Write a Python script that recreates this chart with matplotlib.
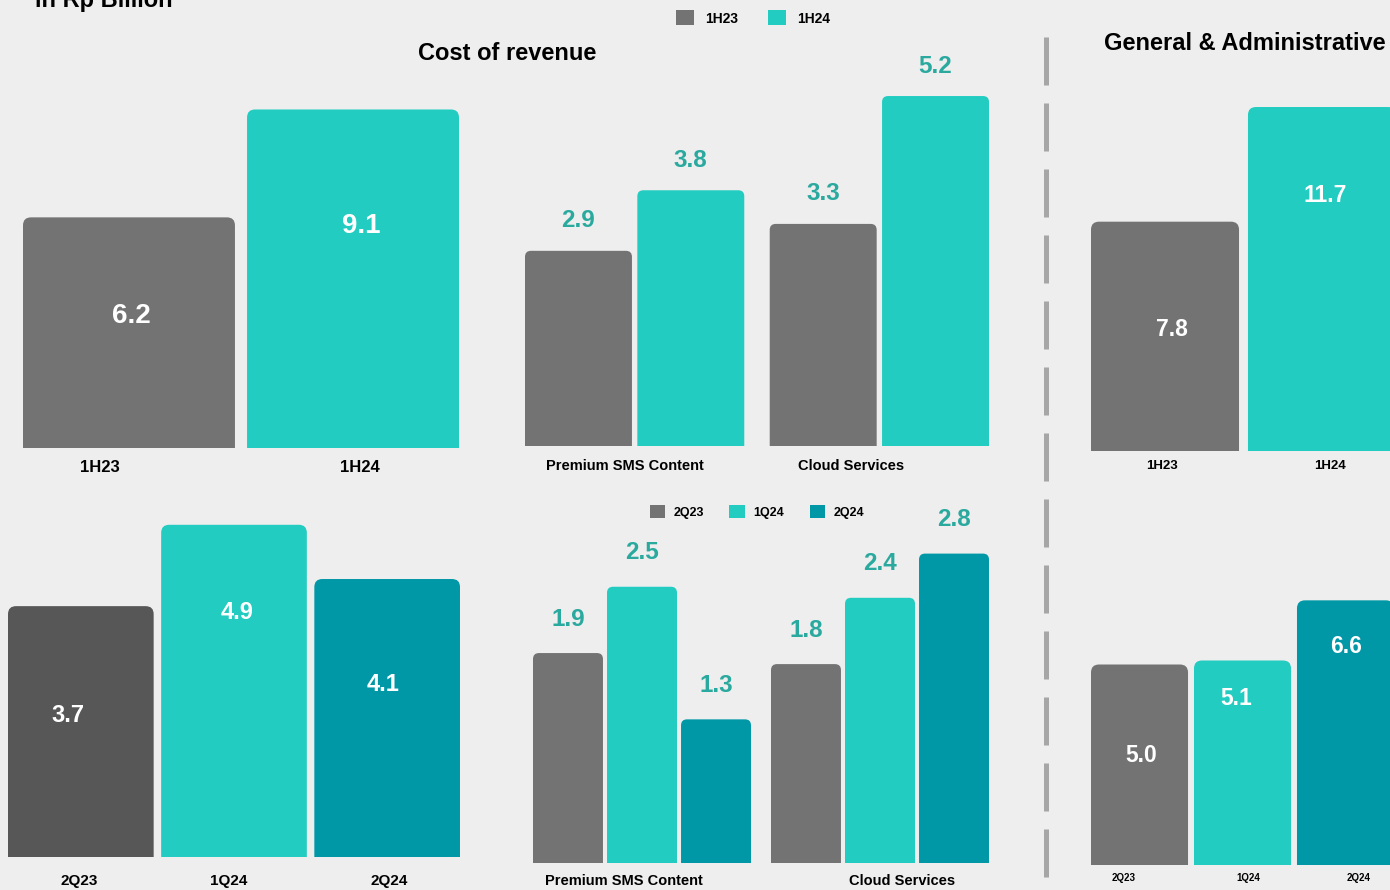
import matplotlib
matplotlib.use("Agg")
import matplotlib.pyplot as plt
import numpy as np
from matplotlib.patches import FancyBboxPatch, Patch
from matplotlib.lines import Line2D

plt.rcParams['font.family'] = ['Liberation Sans', 'DejaVu Sans']

# data
half_labels = ["1H23", "1H24"]
quarter_labels = ["2Q23", "1Q24", "2Q24"]
segment_labels = ["Premium SMS Content", "Cloud Services"]

cor_half = [6.2, 9.1]
cor_half_seg = {"1H23": [2.9, 3.3], "1H24": [3.8, 5.2]}
cor_quarter = [3.7, 4.9, 4.1]
cor_quarter_seg = {"2Q23": [1.9, 1.8], "1Q24": [2.5, 2.4], "2Q24": [1.3, 2.8]}
ga_half = [7.8, 11.7]
ga_quarter = [5.0, 5.1, 6.6]

# style
BG = "#EEEEEE"
GRAY = "#737373"
DARK_GRAY = "#575757"
TEAL = "#22CCC0"
DARK_TEAL = "#0097A7"
LABEL_TEAL = "#2AA99F"

W, H = 1390, 890
fig = plt.figure(figsize=(W / 100, H / 100), dpi=100, facecolor=BG)


def add_ax(l, r, b, ppu, ymax, xlim):
    t = b - ppu * ymax
    ax = fig.add_axes([l / W, 1 - b / H, (r - l) / W, (b - t) / H])
    ax.set_xlim(*xlim)
    ax.set_ylim(0, ymax)
    ax.axis('off')
    ppx = (r - l) / (xlim[1] - xlim[0])
    return ax, ppx


def round_bars(ax, bars, ppx, ppu, r_px=8):
    # swap the plain rectangles for ones with rounded top corners
    rx = r_px / ppx
    for rect in bars:
        rect.set_visible(False)
        ry = r_px / ppu
        p = FancyBboxPatch((rect.get_x(), -ry), rect.get_width(), rect.get_height() + ry,
                           boxstyle=f"round,pad=0,rounding_size={rx}",
                           mutation_aspect=ppx / ppu,
                           fc=rect.get_facecolor(), ec='none')
        ax.add_patch(p)


def simple_panel(l, r, b, ppu, vals, colors, w, lab_y, lab_dx, lab_size,
                 cats, cat_dx, cat_dy, cat_size):
    x = np.arange(len(vals))
    ax, ppx = add_ax(l, r, b, ppu, max(vals) * 1.08, (x[0] - w / 2, x[-1] + w / 2))
    bars = ax.bar(x, vals, w, color=colors)
    round_bars(ax, bars, ppx, ppu)
    for xi, v, ly, dx in zip(x, vals, lab_y, lab_dx):
        ax.annotate(f"{v:.1f}", (xi, ly), xytext=(dx * 0.72, 0), textcoords='offset points',
                    ha='center', va='center', color='white', fontsize=lab_size,
                    fontweight='bold')
    for xi, c, dx in zip(x, cats, cat_dx):
        ax.annotate(c, (xi, 0), xytext=(dx * 0.72, -cat_dy * 0.72), textcoords='offset points',
                    ha='center', va='center', fontsize=cat_size, fontweight='bold',
                    annotation_clip=False)
    return ax


def group_panel(l, r, b, ppu, series, colors, s, w, lab_off, lab_size,
                cats, cat_dx, cat_dy, cat_size):
    m = len(series)
    g = np.arange(len(cats))
    ymax = max(max(v) for v in series.values()) * 1.06
    lo = g[0] - (m - 1) / 2 * s - w / 2
    hi = g[-1] + (m - 1) / 2 * s + w / 2
    ax, ppx = add_ax(l, r, b, ppu, ymax, (lo, hi))
    for j, (name, vals) in enumerate(series.items()):
        xs = g + (j - (m - 1) / 2) * s
        bars = ax.bar(xs, vals, w, color=colors[j])
        round_bars(ax, bars, ppx, ppu, r_px=6)
        for xi, v in zip(xs, vals):
            ax.annotate(f"{v:.1f}", (xi, v), xytext=(0, lab_off * 0.72), textcoords='offset points',
                        ha='center', va='center', color=LABEL_TEAL, fontsize=lab_size,
                        fontweight='bold', annotation_clip=False)
    for gi, c, dx in zip(g, cats, cat_dx):
        ax.annotate(c, (gi, 0), xytext=(dx * 0.72, -cat_dy * 0.72), textcoords='offset points',
                    ha='center', va='center', fontsize=cat_size, fontweight='bold',
                    annotation_clip=False)
    return ax


# top row
simple_panel(23, 459, 448, 37.2, cor_half, [GRAY, TEAL], 0.946,
             [3.55, 5.97], [2, 8], 20, half_labels, [-29, 7], 19, 12)
group_panel(525, 989, 446, 67.3, cor_half_seg, [GRAY, TEAL], 0.459, 0.437,
            30, 17.5, segment_labels, [-10, -28], 20, 10.5)
simple_panel(1091, 1396, 451, 29.4, ga_half, [GRAY, TEAL], 0.943,
             [4.12, 8.7], [7, 3], 16.5, half_labels, [-3, 8], 15, 9.5)

# bottom row
simple_panel(8, 460, 857, 67.8, cor_quarter, [DARK_GRAY, TEAL, DARK_TEAL], 0.951,
             [2.09, 3.61, 2.54], [-13, 3, -4], 17, quarter_labels, [-2, -5.5, 2.5], 24, 11)
group_panel(533, 989, 863, 110.5, cor_quarter_seg, [GRAY, TEAL, DARK_TEAL], 0.311, 0.294,
            34, 17.5, segment_labels, [-18, 22], 18, 10.5)
simple_panel(1091, 1394, 865, 40.1, ga_quarter, [GRAY, TEAL, DARK_TEAL], 0.942,
             [2.74, 4.14, 5.44], [1.5, -6.5, 0.5], 16.5, quarter_labels, [-15.5, 5.5, 13.5], 13, 7)

# titles
fig.text(35 / W, 1 - 7 / H, "in Rp Billion", fontsize=17, fontweight='bold', va='baseline')
fig.text(507 / W, 1 - 53 / H, "Cost of revenue", fontsize=17, fontweight='bold',
         ha='center', va='center')
fig.text(1104 / W, 1 - 44 / H, "General & Administrative", fontsize=17, fontweight='bold',
         ha='left', va='center')

# legends
fig.legend(handles=[Patch(fc=c, label=n) for c, n in zip([GRAY, TEAL], half_labels)],
           loc='center', bbox_to_anchor=(753 / W, 1 - 18 / H), ncol=2, frameon=False,
           handlelength=1.25, handleheight=1.25, handletextpad=0.8, columnspacing=2.2,
           prop=dict(weight='bold', size=10))
fig.legend(handles=[Patch(fc=c, label=n) for c, n in zip([GRAY, TEAL, DARK_TEAL], quarter_labels)],
           loc='center', bbox_to_anchor=(757 / W, 1 - 512 / H), ncol=3, frameon=False,
           handlelength=1.25, handleheight=1.25, handletextpad=0.7, columnspacing=2.0,
           prop=dict(weight='bold', size=9))

# divider
fig.add_artist(Line2D([1046 / W, 1046 / W], [1 - 37 / H, 1 - 880 / H], transform=fig.transFigure,
                      lw=3.6, color="#A6A6A6", linestyle=(0, (9.6, 3.6)),
                      dash_capstyle='butt'))

fig.savefig("out.png", dpi=100, facecolor=BG)
